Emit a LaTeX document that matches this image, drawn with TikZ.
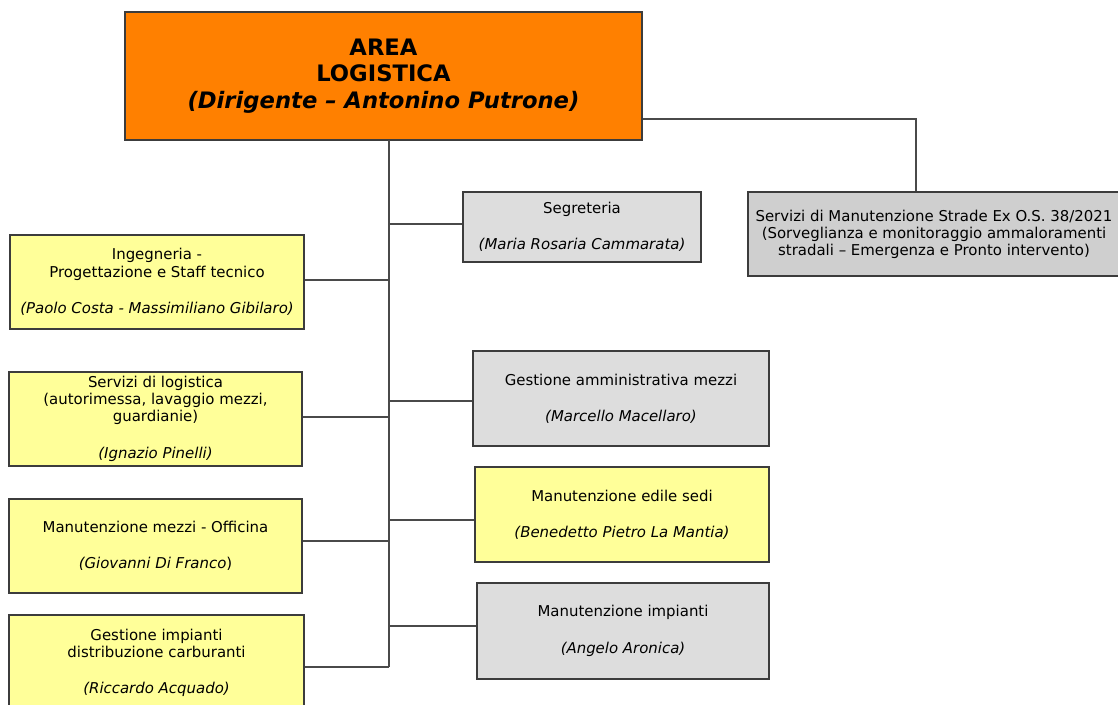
\documentclass[tikz,border=0pt]{standalone}
\usepackage{fontspec}
\setmainfont{DejaVu Sans}
\definecolor{areaorange}{HTML}{FF8000}
\definecolor{unityellow}{HTML}{FFFF99}
\definecolor{unitgrey}{HTML}{DDDDDD}
\definecolor{osgrey}{HTML}{CFCFCF}
\definecolor{boxline}{HTML}{3C3C3C}
\definecolor{linkgray}{HTML}{4A4A4A}
\tikzset{
  unitbox/.style={draw=boxline, line width=0.9pt, align=center, inner sep=0pt,
    font=\fontsize{8.5}{9.7}\selectfont},
  yellowbox/.style={unitbox, fill=unityellow},
  greybox/.style={unitbox, fill=unitgrey},
  link/.style={draw=linkgray, line width=0.8pt}
}
\begin{document}
\begin{tikzpicture}[x=0.02cm,y=-0.02cm]
  \useasboundingbox (0,0) rectangle (1118,704);
  % head of the area
  \node[unitbox, fill=areaorange, minimum width=10.34cm, minimum height=2.56cm,
    font=\fontsize{12.9}{15.2}\selectfont\bfseries] (area) at (383.5,76)
    {AREA\\LOGISTICA\\\textit{(Dirigente -- Antonino Putrone)}};
  \coordinate (trunk) at (389,140);
  \coordinate (trunkend) at (389,667);
  % right column
  \node[unitbox, fill=osgrey, minimum width=7.44cm, minimum height=1.68cm] (os) at (934,234)
    {Servizi di Manutenzione Strade Ex O.S. 38/2021\\(Sorveglianza e monitoraggio ammaloramenti\\stradali -- Emergenza e Pronto intervento)};
  \node[greybox, minimum width=4.76cm, minimum height=1.4cm] (seg) at (582,227)
    {Segreteria\\[11pt]\textit{(Maria Rosaria Cammarata)}};
  \node[greybox, minimum width=5.92cm, minimum height=1.9cm] (gam) at (621,398.5)
    {Gestione amministrativa mezzi\\[11pt]\textit{(Marcello Macellaro)}};
  \node[yellowbox, minimum width=5.88cm, minimum height=1.9cm] (edi) at (622,514.5)
    {Manutenzione edile sedi\\[11pt]\textit{(Benedetto Pietro La Mantia)}};
  \node[greybox, minimum width=5.84cm, minimum height=1.92cm] (imp) at (623,631)
    {Manutenzione impianti\\[11pt]\textit{(Angelo Aronica)}};
  % left column
  \node[yellowbox, minimum width=5.88cm, minimum height=1.88cm] (ing) at (157,282)
    {Ingegneria -\\Progettazione e Staff tecnico\\[11pt]\textit{(Paolo Costa - Massimiliano Gibilaro)}};
  \node[yellowbox, minimum width=5.86cm, minimum height=1.88cm] (log) at (155.5,419)
    {Servizi di logistica\\(autorimessa, lavaggio mezzi,\\guardianie)\\[11pt]\textit{(Ignazio Pinelli)}};
  \node[yellowbox, minimum width=5.86cm, minimum height=1.88cm] (mme) at (155.5,546)
    {Manutenzione mezzi - Officina\\[11pt]\textit{(Giovanni Di Franco})};
  \node[yellowbox, minimum width=5.9cm, minimum height=1.92cm] (car) at (156.5,663)
    {Gestione impianti\\distribuzione carburanti\\[11pt]\textit{(Riccardo Acquado)}};
  % connectors
  \draw[link] (trunk) -- (trunkend);
  \draw[link] (area.east |- 0,119) -| (os.north -| 916,0);
  \draw[link] (trunk |- 0,224) -- (seg.west |- 0,224);
  \draw[link] (trunk |- 0,401) -- (gam.west |- 0,401);
  \draw[link] (trunk |- 0,520) -- (edi.west |- 0,520);
  \draw[link] (trunk |- 0,626) -- (imp.west |- 0,626);
  \draw[link] (trunk |- 0,280) -- (ing.east |- 0,280);
  \draw[link] (trunk |- 0,417) -- (log.east |- 0,417);
  \draw[link] (trunk |- 0,541) -- (mme.east |- 0,541);
  \draw[link] (trunkend) -- (car.east |- trunkend);
\end{tikzpicture}
\end{document}
